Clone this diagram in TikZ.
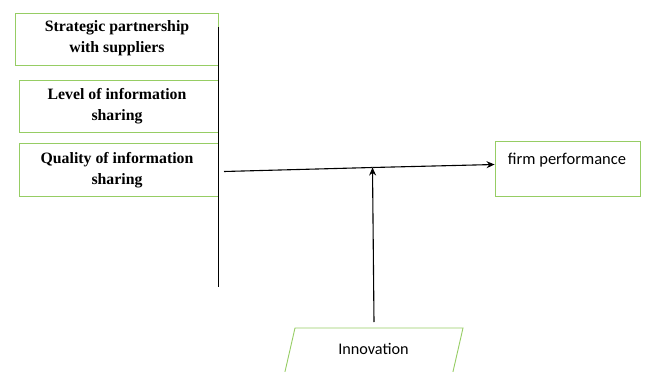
\documentclass[tikz,border=0pt]{standalone}
\usepackage{fontspec}
\setmainfont{Liberation Serif}
\newfontfamily\calib{Carlito}
\usetikzlibrary{arrows.meta}
\definecolor{boxgreen}{RGB}{150,205,100}
\begin{document}
\begin{tikzpicture}[x=1pt,y=-1pt,
  greenbox/.style={draw=boxgreen, line width=0.9pt, inner sep=0pt},
  leftlabel/.style={font=\fontsize{15.8}{21}\selectfont\bfseries, align=center},
  arr/.style={draw=black, line width=1.1pt, -{Stealth[length=8pt,width=7pt]}}]
\useasboundingbox (0,0) rectangle (645,372);
% left boxes
\node[greenbox, minimum width=203pt, minimum height=52pt] (b1) at (116.5,39) {};
\node[leftlabel] (t1) at (117,38.5) {Strategic partnership\\with suppliers};
\node[greenbox, minimum width=199pt, minimum height=52pt] (b2) at (118.5,106) {};
\node[leftlabel] (t2) at (117,106) {Level of information\\sharing};
\node[greenbox, minimum width=199pt, minimum height=53pt] (b3) at (118.5,169.5) {};
\node[leftlabel] (t3) at (117,170) {Quality of information\\sharing};
% vertical bar
\coordinate (vtop) at (218,27);
\coordinate (vbot) at (218,287);
\draw[black, line width=1pt] (vtop) -- (vbot);
% firm performance
\node[greenbox, minimum width=145pt, minimum height=55pt] (firm) at (567.5,168.5) {};
\node[font=\calib\fontsize{16.5}{18}\selectfont] (firmtext) at (567,160) {firm performance};
% innovation
\draw[boxgreen, line width=0.9pt] (284,376) -- (295,328) -- (463,328) -- (452,376);
\node[font=\calib\fontsize{16.2}{18}\selectfont] (inno) at (373.5,349) {Innovation};
% arrows
\coordinate (hstart) at (224,171.5);
\coordinate (meet) at (372.5,167.5);
\draw[black, line width=1.1pt] (hstart) -- (meet);
\draw[arr] (meet) -- (firm.west |- 0,164.5);
\coordinate (istart) at (374,322);
\draw[arr] (istart) -- (meet);
\end{tikzpicture}
\end{document}
